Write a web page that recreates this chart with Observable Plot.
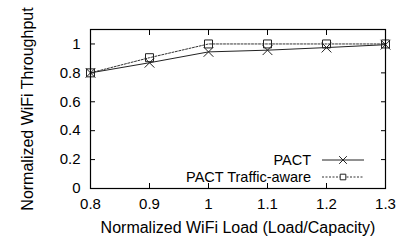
<!DOCTYPE html>
<html><head><meta charset="utf-8">
<script src="https://cdn.jsdelivr.net/npm/d3@7"></script>
<script src="https://cdn.jsdelivr.net/npm/@observablehq/plot@0.6"></script>
<style>
body{margin:0;background:#fff;}
#wrap{position:relative;width:405px;height:242px;font-family:"Liberation Sans",Arial,sans-serif;}
#wrap svg [aria-label="x-axis label"], #wrap svg [aria-label="y-axis label"]{font-size:16px;}
#legend{position:absolute;right:40px;top:152px;font-size:14.5px;color:#000;}
#legend .row{display:flex;align-items:center;justify-content:flex-end;height:16.5px;}
#legend span{line-height:14px;display:block;}
#legend svg{margin-left:10px;}
</style></head><body><div id="wrap"></div>
<script>
const loads = [0.8, 0.9, 1.0, 1.1, 1.2, 1.3];
const pact = [0.80, 0.87, 0.945, 0.957, 0.975, 0.995];
const pactTA = [0.80, 0.905, 1.0, 1.0, 1.0, 1.0];
const seriesNames = ["PACT", "PACT Traffic-aware"];
const xTicks = [0.8, 0.9, 1.0, 1.1, 1.2, 1.3];
const yTicks = [0, 0.2, 0.4, 0.6, 0.8, 1];
const xLabel = "Normalized WiFi Load (Load/Capacity)";
const yLabel = "Normalized WiFi Throughput";

const rows = [];
loads.forEach((l, i) => {
  rows.push({load: l, value: pact[i], series: seriesNames[0]});
  rows.push({load: l, value: pactTA[i], series: seriesNames[1]});
});
const s0 = rows.filter(d => d.series === seriesNames[0]);
const s1 = rows.filter(d => d.series === seriesNames[1]);

const fmt = d => String(d);

const chart = Plot.plot({
  width: 405, height: 242,
  marginLeft: 90, marginRight: 20, marginTop: 29, marginBottom: 54,
  style: {fontSize: "15px", fontFamily: "'Liberation Sans', Arial, sans-serif", color: "#000", background: "#fff", overflow: "visible"},
  x: {domain: [0.8, 1.3]},
  y: {domain: [0, 1.1]},
  marks: [
    Plot.axisX(xTicks, {anchor: "bottom", tickSize: -5, tickPadding: 15, tickFormat: fmt, label: xLabel, labelAnchor: "center", labelArrow: "none", labelOffset: 44}),
    Plot.axisX(xTicks, {anchor: "top", tickSize: -5, tickFormat: () => "", label: null}),
    Plot.axisY(yTicks, {anchor: "left", tickSize: -5, tickPadding: 15, tickFormat: fmt, label: yLabel, labelAnchor: "center", labelArrow: "none", labelOffset: 69}),
    Plot.axisY(yTicks, {anchor: "right", tickSize: -5, tickFormat: () => "", label: null}),
    Plot.line(s0, {x: "load", y: "value", stroke: "#222", strokeWidth: 1}),
    Plot.line(s1, {x: "load", y: "value", stroke: "#333", strokeWidth: 1, strokeDasharray: "2,1.5"}),
    Plot.dot(s0, {x: "load", y: "value", symbol: "times", r: 4.5, stroke: "#222", strokeWidth: 1}),
    Plot.dot(s1, {x: "load", y: "value", symbol: "square", r: 4.5, stroke: "#222", fill: "none", strokeWidth: 1}),
    Plot.frame({stroke: "#000", strokeWidth: 1.2})
  ]
});
const wrap = document.getElementById("wrap");
wrap.appendChild(chart);

const legend = document.createElement("div");
legend.id = "legend";
const dashes = ["none", "2,1.5"];
seriesNames.forEach((name, i) => {
  const row = document.createElement("div");
  row.className = "row";
  const span = document.createElement("span");
  span.textContent = name;
  row.appendChild(span);
  const svg = d3.create("svg").attr("width", 44).attr("height", 12);
  svg.append("line").attr("x1", 1).attr("x2", 43).attr("y1", 6).attr("y2", 6)
    .attr("stroke", i === 0 ? "#222" : "#333").attr("stroke-dasharray", dashes[i]);
  const sym = d3.symbol(i === 0 ? d3.symbolTimes : d3.symbolSquare2, 40);
  svg.append("path").attr("d", sym()).attr("transform", "translate(22,6)")
    .attr("stroke", "#222").attr("fill", i === 0 ? "none" : "#fff");
  row.appendChild(svg.node());
  legend.appendChild(row);
});
wrap.appendChild(legend);
</script>
</body></html>
